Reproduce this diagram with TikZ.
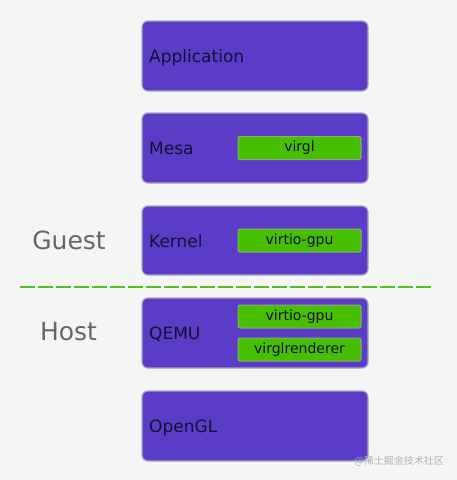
\documentclass[tikz,border=0pt]{standalone}
\usepackage{fontspec}
\setmainfont{DejaVu Sans}
\newfontfamily\cjk{Noto Sans CJK SC}
\definecolor{bg}{HTML}{F5F5F5}
\definecolor{layer}{HTML}{5A3CC6}
\definecolor{layeredge}{HTML}{A8A4C0}
\definecolor{ltext}{HTML}{150E35}
\definecolor{comp}{HTML}{45BF00}
\definecolor{compedge}{HTML}{8AAF70}
\definecolor{sep}{HTML}{55C020}
\begin{document}
\begin{tikzpicture}[x=1pt,y=-1pt,
  layerbox/.style={draw=layeredge, line width=1.2pt, fill=layer, rounded corners=6pt},
  compbox/.style={draw=compedge, line width=1pt, fill=comp, rounded corners=2pt, minimum width=123pt, minimum height=23pt, inner sep=0pt, font=\fontsize{14}{16}\selectfont, text=ltext},
  layerlabel/.style={anchor=base west, inner sep=0pt, font=\fontsize{17}{20}\selectfont, text=ltext},
  sidelabel/.style={inner sep=0pt, font=\fontsize{25}{30}\selectfont, text=black!60}]
\fill[bg] (0,0) rectangle (457,480);
\useasboundingbox (0,0) rectangle (457,480);
% layers
\draw[layerbox] (142,21) rectangle (368,91);
\node[layerlabel] (app) at (149,62.5) {Application};
\draw[layerbox] (142,113) rectangle (368,183);
\node[layerlabel] (mesa) at (149,154.5) {Mesa};
\node[compbox] (virgl) at (299.5,148) {virgl};
\draw[layerbox] (142,206) rectangle (368,275);
\node[layerlabel] (kernel) at (149,247) {Kernel};
\node[compbox] (vgpu1) at (299.5,240.5) {virtio-gpu};
\draw[layerbox] (142,298) rectangle (368,368);
\node[layerlabel] (qemu) at (149,339.5) {QEMU};
\node[compbox] (vgpu2) at (299.5,316.5) {virtio-gpu};
\node[compbox] (vrend) at (299.5,349.5) {virglrenderer};
\draw[layerbox] (142,391) rectangle (368,461);
\node[layerlabel] (gl) at (149,432.5) {OpenGL};
% separator
\coordinate (sepl) at (20,287);
\coordinate (sepr) at (432,287);
\draw[sep, line width=2.7pt, dash pattern=on 14.5pt off 3.5pt] (sepl) -- (sepr);
\node[sidelabel] (guest) at (69,240) {Guest};
\node[sidelabel] (host) at (68.5,332) {Host};
\node[inner sep=0pt, anchor=east, font=\cjk\fontsize{10}{12}\selectfont, text=black!30] (wm) at (444,461) {@稀土掘金技术社区};
\end{tikzpicture}
\end{document}
